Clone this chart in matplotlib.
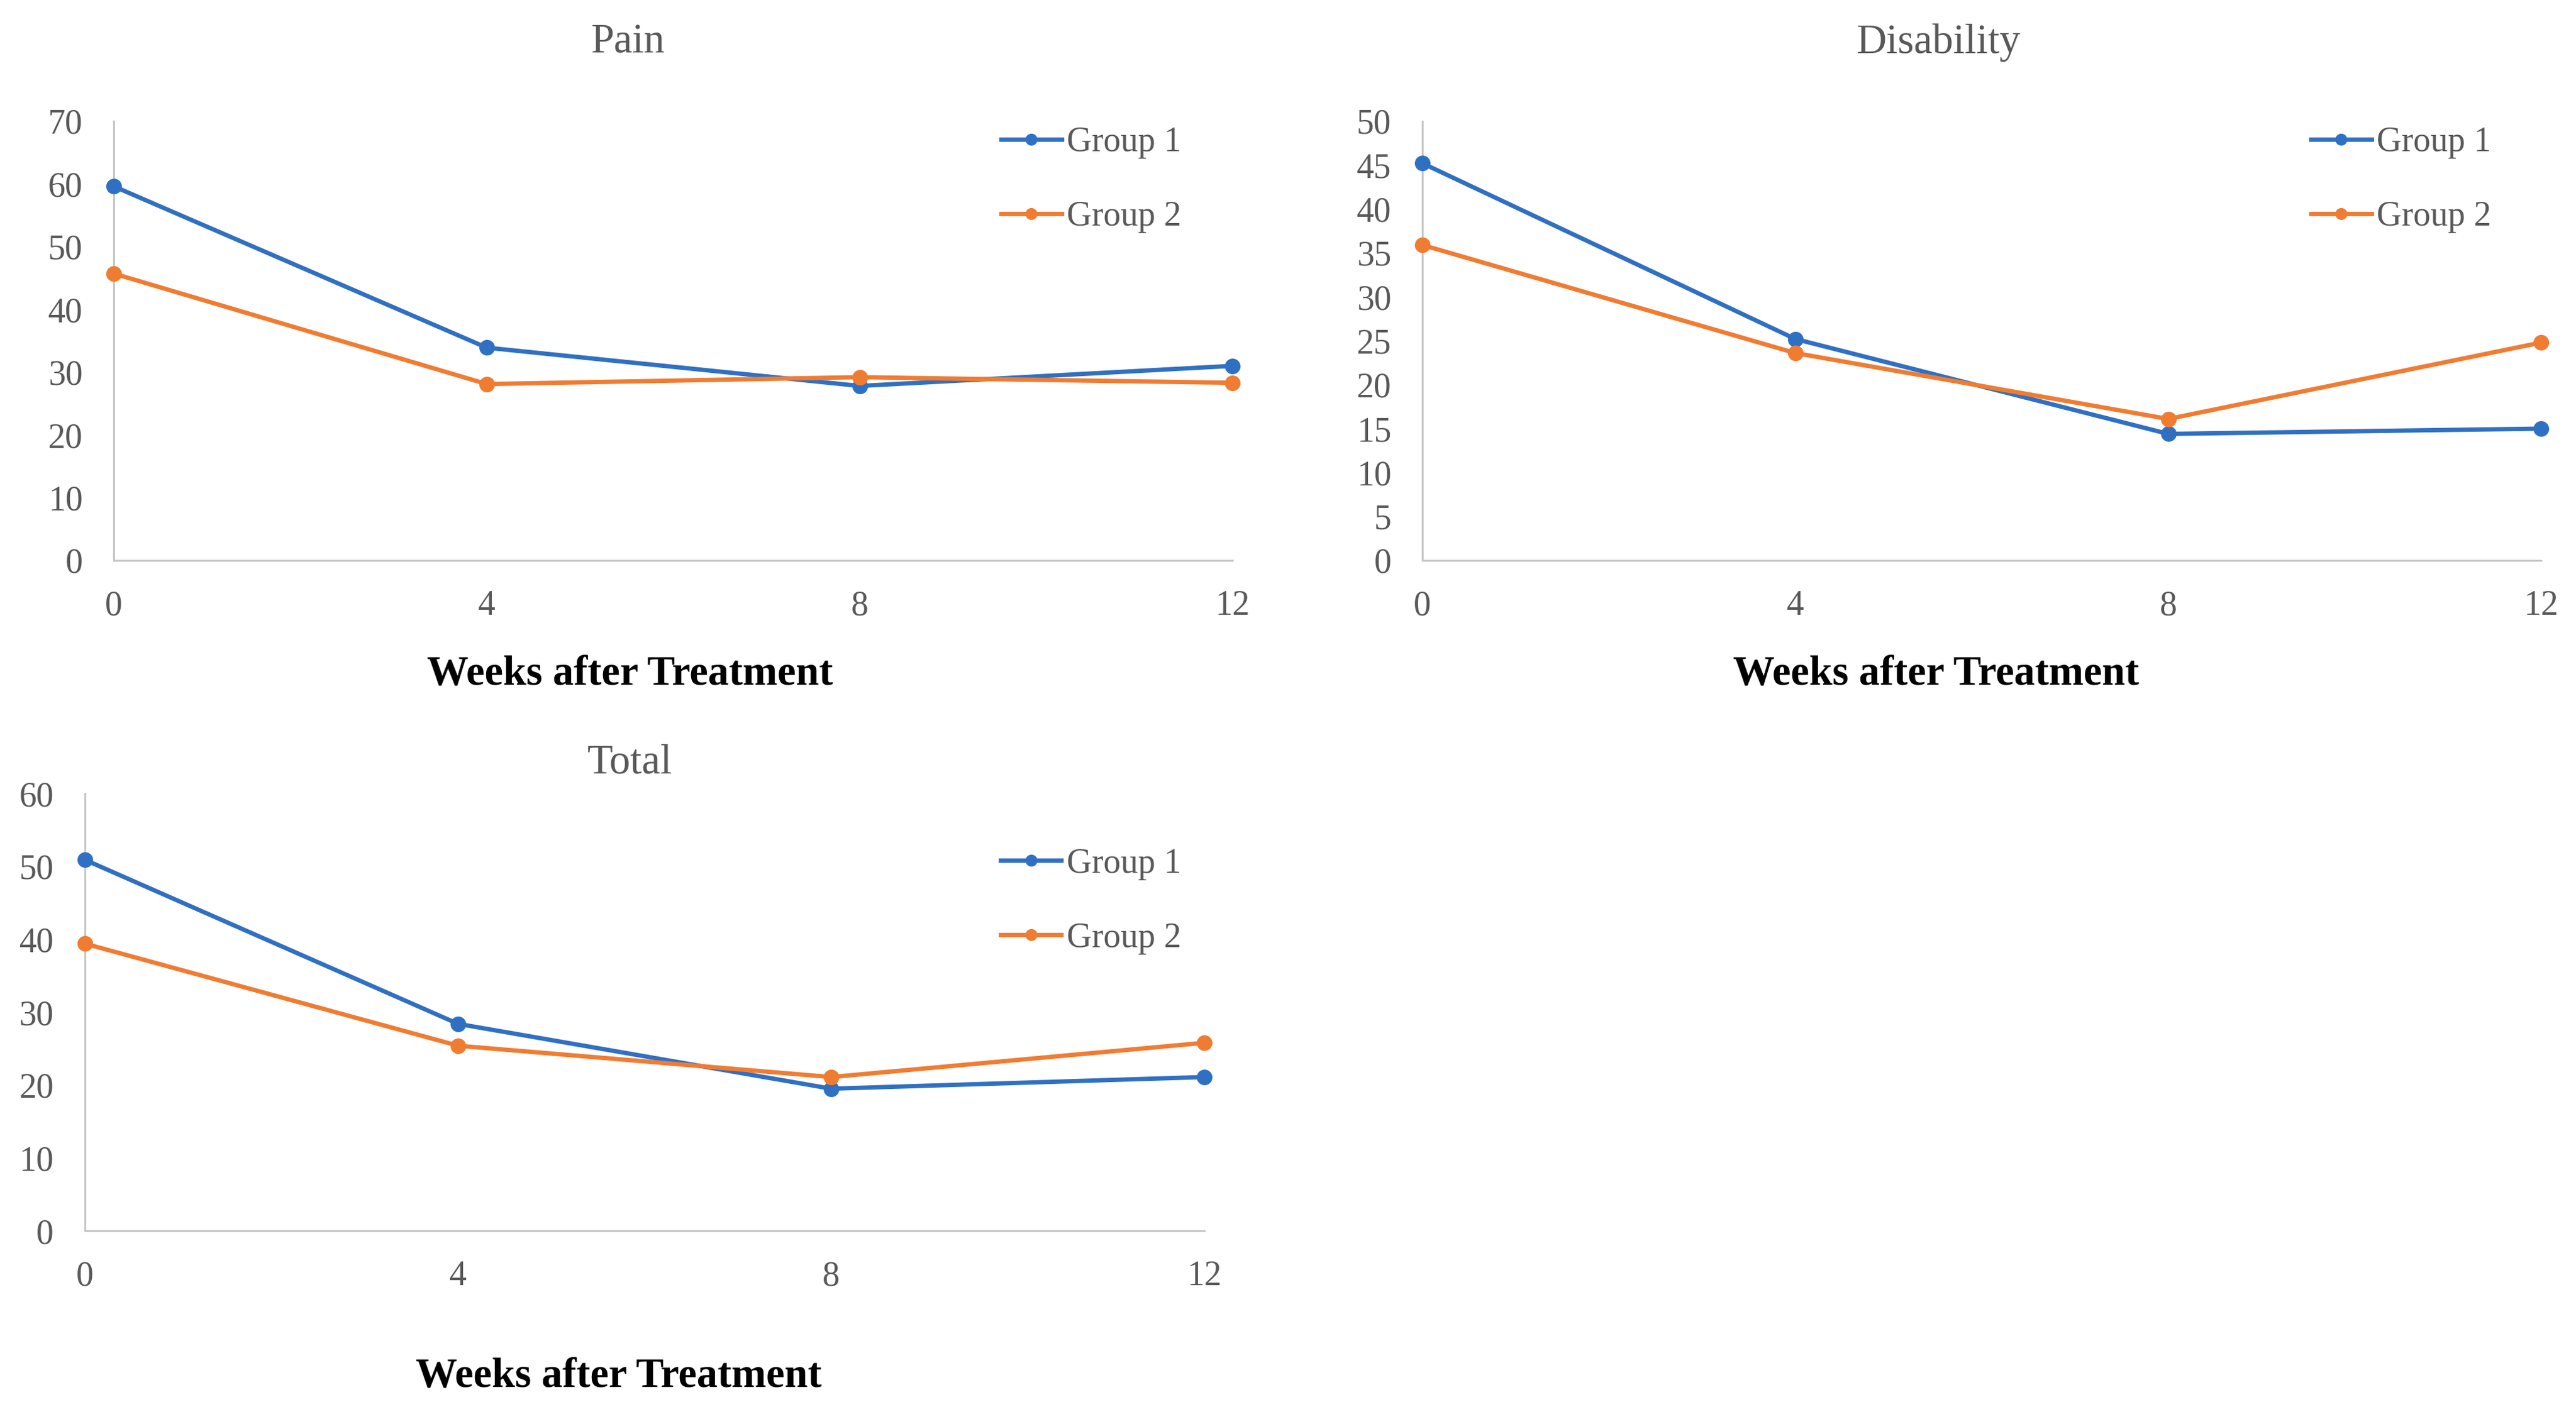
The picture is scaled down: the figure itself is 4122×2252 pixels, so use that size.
import numpy as np
import matplotlib
matplotlib.use('Agg')
import matplotlib.pyplot as plt

plt.rcParams['font.family'] = ['Liberation Serif', 'DejaVu Serif']

weeks = [0, 4, 8, 12]
labels = ['Group 1', 'Group 2']

pain_g1 = [59.6, 33.9, 27.8, 31.0]
pain_g2 = [45.7, 28.1, 29.2, 28.3]

dis_g1 = [45.2, 25.2, 14.4, 15.0]
dis_g2 = [35.9, 23.6, 16.1, 24.8]

tot_g1 = [50.9, 28.4, 19.5, 21.1]
tot_g2 = [39.4, 25.4, 21.1, 25.8]

blue = '#3070c2'
orange = '#f07c32'
gray_txt = '#595959'
spine_col = '#c6c6c6'

fig = plt.figure(figsize=(41.22, 22.52), dpi=100)

panels = [
    # title, g1, g2, yticks, axes rect, title x/y, xlabel x/y, legend anchor
    ('Pain', pain_g1, pain_g2, np.arange(0, 71, 10),
     [0.0442, 0.6017, 0.4343, 0.3122], (0.459, 1.155), (0.461, -0.282), (0.793, 0.988)),
    ('Disability', dis_g1, dis_g2, np.arange(0, 51, 5),
     [0.5522, 0.6017, 0.4343, 0.3122], (0.461, 1.155), (0.459, -0.282), (0.794, 0.988)),
    ('Total', tot_g1, tot_g2, np.arange(0, 61, 10),
     [0.0330, 0.1252, 0.4345, 0.3108], (0.487, 1.046), (0.477, -0.357), (0.818, 0.876)),
]

for title, g1, g2, yt, rect, tpos, xlpos, lpos in panels:
    ax = fig.add_axes(rect)
    ax.plot(weeks, g1, color=blue, lw=5, marker='o', ms=17, label=labels[0], clip_on=False, zorder=3)
    ax.plot(weeks, g2, color=orange, lw=5, marker='o', ms=17, label=labels[1], clip_on=False, zorder=3)
    ax.set_xlim(0, 12)
    ax.set_ylim(yt[0], yt[-1])
    ax.set_xticks(weeks)
    ax.set_yticks(yt)
    for s in ['top', 'right']:
        ax.spines[s].set_visible(False)
    for s in ['left', 'bottom']:
        ax.spines[s].set_color(spine_col)
        ax.spines[s].set_linewidth(2.2)
    ax.tick_params(axis='both', length=0, labelsize=40, labelcolor=gray_txt)
    ax.tick_params(axis='x', pad=34)
    ax.tick_params(axis='y', pad=36)
    ax.text(tpos[0], tpos[1], title, transform=ax.transAxes, ha='center', va='baseline',
            fontsize=48, color=gray_txt)
    ax.text(xlpos[0], xlpos[1], 'Weeks after Treatment', transform=ax.transAxes, ha='center',
            va='baseline', fontsize=48, fontweight='bold', color='black')
    leg = ax.legend(loc='upper left', bbox_to_anchor=lpos, frameon=False, fontsize=40,
                    handlelength=1.75, handletextpad=0.15, labelspacing=1.2,
                    borderpad=0, borderaxespad=0, markerscale=0.75)
    for t in leg.get_texts():
        t.set_color(gray_txt)

fig.savefig('out.png', dpi=100, facecolor='white')
